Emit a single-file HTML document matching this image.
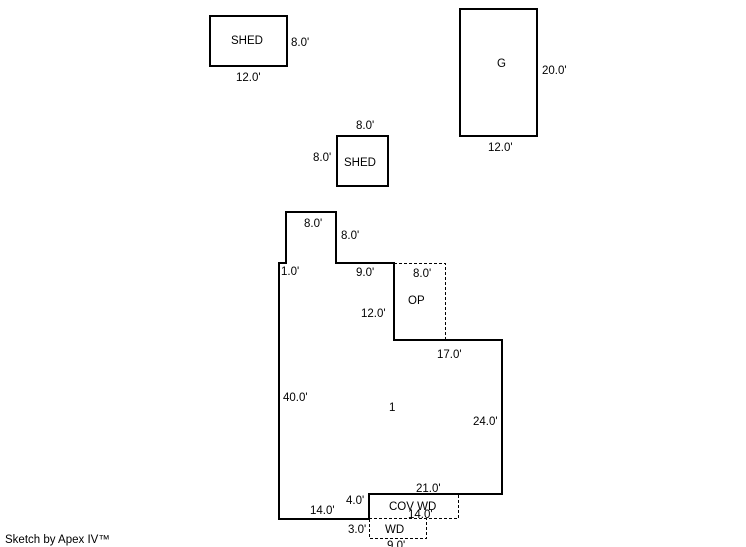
<html><head><style>body{margin:0;background:#fff}svg text{font-family:"Liberation Sans",Arial,sans-serif;font-size:11.5px;fill:#000}</style></head><body>
<svg width="746" height="547" xmlns="http://www.w3.org/2000/svg">
<g fill="none" stroke="#000" stroke-width="2">
<rect x="210" y="16" width="77" height="50"/>
<rect x="460" y="9" width="77" height="127"/>
<rect x="337" y="136" width="51" height="50"/>
<path d="M286 212 H336 V263 H394 V340 H502 V494 H369 V519 H279 V263 H286 Z"/>
</g>
<g fill="none" stroke="#000" stroke-width="1" stroke-dasharray="3,2">
<path d="M394 263.5 H445.5 V340"/>
<path d="M369 494.5 H458.5 V518.5 H369"/>
<path d="M369.5 519 V538.5 H426.5 V519"/>
</g>
<text x="231" y="44" font-size="13">SHED</text>
<text x="291" y="46">8.0'</text>
<text x="236" y="81">12.0'</text>
<text x="497" y="67" font-size="14">G</text>
<text x="542" y="74">20.0'</text>
<text x="488" y="151">12.0'</text>
<text x="356" y="129">8.0'</text>
<text x="313" y="161">8.0'</text>
<text x="344" y="166" font-size="13">SHED</text>
<text x="304" y="227">8.0'</text>
<text x="341" y="239">8.0'</text>
<text x="281" y="275">1.0'</text>
<text x="356" y="276">9.0'</text>
<text x="413" y="277">8.0'</text>
<text x="408" y="304" font-size="14">OP</text>
<text x="361" y="317">12.0'</text>
<text x="437" y="358">17.0'</text>
<text x="283" y="401">40.0'</text>
<text x="389" y="411" font-size="14">1</text>
<text x="473" y="425">24.0'</text>
<text x="416" y="492">21.0'</text>
<text x="346" y="504">4.0'</text>
<text x="389" y="510" font-size="13">COV WD</text>
<text x="310" y="514">14.0'</text>
<text x="408" y="518">14.0'</text>
<text x="348" y="533">3.0'</text>
<text x="385" y="533" font-size="11">WD</text>
<text x="387" y="549">9.0'</text>
<text x="5" y="543" font-size="8">Sketch by Apex IV™</text>
</svg>
</body></html>
